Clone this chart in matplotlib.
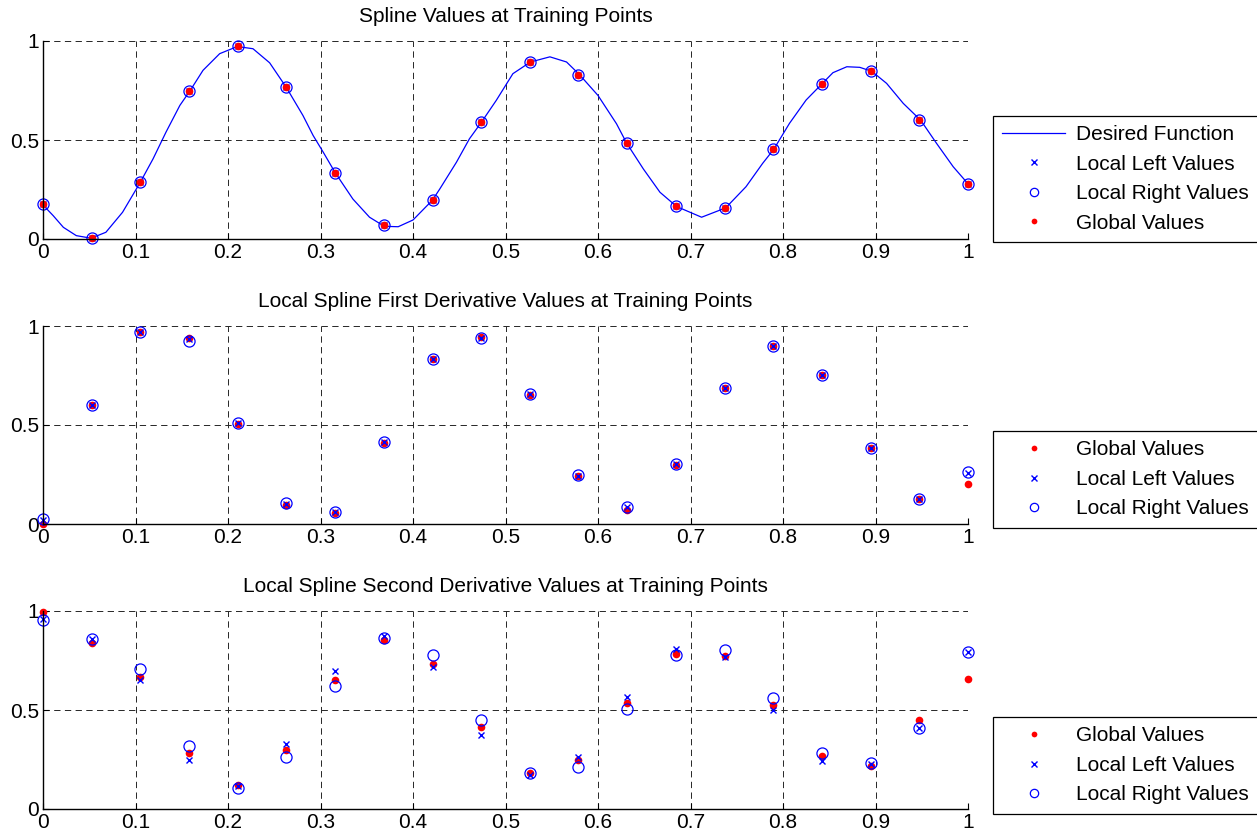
"""Local vs global spline values and derivatives at the training points."""

import matplotlib

matplotlib.use("Agg")
import matplotlib.pyplot as plt

plt.rcParams.update(
    {
        "font.family": ["Liberation Sans", "DejaVu Sans"],
        "font.size": 15,
        "axes.unicode_minus": False,
    }
)

# training points (20 evenly spaced knots on [0, 1])
train_x = [0.0000, 0.0526, 0.1053, 0.1579, 0.2105, 0.2632, 0.3158, 0.3684, 0.4211, 0.4737,
           0.5263, 0.5789, 0.6316, 0.6842, 0.7368, 0.7895, 0.8421, 0.8947, 0.9474, 1.0000]

# desired function
curve_x = [0.000, 0.011, 0.022, 0.036, 0.052, 0.068, 0.086, 0.105, 0.119, 0.133, 0.148,
           0.159, 0.173, 0.191, 0.210, 0.227, 0.245, 0.263, 0.281, 0.292, 0.303, 0.316,
           0.335, 0.353, 0.369, 0.384, 0.400, 0.421, 0.429, 0.447, 0.461, 0.474, 0.490,
           0.508, 0.527, 0.548, 0.566, 0.580, 0.600, 0.620, 0.631, 0.649, 0.667, 0.685,
           0.712, 0.738, 0.760, 0.778, 0.790, 0.807, 0.825, 0.842, 0.854, 0.869, 0.883,
           0.896, 0.912, 0.930, 0.949, 0.966, 0.984, 1.000]
curve_y = [0.172, 0.118, 0.059, 0.017, 0.004, 0.034, 0.135, 0.285, 0.405, 0.540, 0.675,
           0.749, 0.852, 0.936, 0.972, 0.961, 0.890, 0.766, 0.624, 0.523, 0.438, 0.334,
           0.202, 0.110, 0.064, 0.062, 0.096, 0.196, 0.253, 0.388, 0.506, 0.590, 0.700,
           0.835, 0.894, 0.920, 0.894, 0.830, 0.725, 0.582, 0.484, 0.354, 0.236, 0.164,
           0.110, 0.157, 0.264, 0.382, 0.453, 0.584, 0.702, 0.783, 0.840, 0.870, 0.867,
           0.847, 0.786, 0.685, 0.599, 0.483, 0.365, 0.279]

# spline values (left, right and global coincide)
val_global = [0.175, 0.007, 0.286, 0.749, 0.975, 0.766, 0.333, 0.069, 0.199, 0.589,
              0.896, 0.830, 0.487, 0.165, 0.158, 0.453, 0.783, 0.847, 0.599, 0.279]
val_left = list(val_global)
val_right = list(val_global)

# first derivative (normalised)
d1_global = [0.000, 0.601, 0.970, 0.938, 0.507, 0.096, 0.054, 0.411, 0.833, 0.946,
             0.652, 0.241, 0.069, 0.296, 0.689, 0.897, 0.751, 0.382, 0.128, 0.202]
d1_left = [0.019, 0.601, 0.970, 0.934, 0.510, 0.101, 0.059, 0.413, 0.833, 0.940,
           0.655, 0.244, 0.086, 0.301, 0.689, 0.897, 0.751, 0.382, 0.128, 0.258]
d1_right = [0.024, 0.601, 0.970, 0.926, 0.512, 0.104, 0.062, 0.414, 0.833, 0.938,
            0.655, 0.246, 0.088, 0.303, 0.689, 0.897, 0.751, 0.382, 0.128, 0.263]

# second derivative (normalised)
d2_global = [0.997, 0.836, 0.668, 0.283, 0.121, 0.298, 0.651, 0.852, 0.732, 0.413,
             0.182, 0.245, 0.533, 0.781, 0.772, 0.524, 0.270, 0.219, 0.447, 0.659]
d2_left = [0.958, 0.857, 0.654, 0.245, 0.115, 0.329, 0.696, 0.874, 0.718, 0.374,
           0.174, 0.263, 0.565, 0.806, 0.767, 0.501, 0.241, 0.229, 0.408, 0.793]
d2_right = [0.954, 0.857, 0.707, 0.320, 0.108, 0.261, 0.622, 0.865, 0.777, 0.450,
            0.182, 0.214, 0.503, 0.776, 0.803, 0.562, 0.283, 0.233, 0.408, 0.793]

x_ticks = [0, 0.1, 0.2, 0.3, 0.4, 0.5, 0.6, 0.7, 0.8, 0.9, 1]
x_labels = ["0", "0.1", "0.2", "0.3", "0.4", "0.5", "0.6", "0.7", "0.8", "0.9", "1"]
y_ticks = [0, 0.5, 1]
y_labels = ["0", "0.5", "1"]

W, H = 1257, 834
BLUE = "#0000ff"
RED = "#ff0000"


def px_axes(fig, top, bottom, left=43, right=968):
    return fig.add_axes([left / W, 1 - bottom / H, (right - left) / W, (bottom - top) / H])


def style(ax, title):
    ax.set_xlim(0, 1)
    ax.set_ylim(0, 1)
    ax.set_xticks(x_ticks, x_labels)
    ax.set_yticks(y_ticks, y_labels)
    ax.tick_params(direction="in", length=4, width=0.8, pad=3, labelsize=15)
    ax.spines["top"].set_visible(False)
    ax.spines["right"].set_visible(False)
    ax.spines["left"].set_linewidth(1.0)
    ax.spines["bottom"].set_linewidth(1.0)
    ax.grid(True, color="0.15", lw=0.7, linestyle=(0, (6.5, 4.5)))
    ax.set_axisbelow(True)
    ax.set_title(title, fontsize=15, pad=14)


def pt_left(ax, y):
    return ax.plot(train_x, y, "x", color=BLUE, ms=5, mew=1.0, clip_on=False,
                   label="Local Left Values")[0]


def pt_right(ax, y):
    return ax.plot(train_x, y, "o", mfc="none", mec=BLUE, ms=8, mew=0.9, clip_on=False,
                   label="Local Right Values")[0]


def pt_global(ax, y):
    return ax.plot(train_x, y, "o", color=RED, ms=5.5, mew=0, clip_on=False,
                   label="Global Values")[0]


def legend(ax, handles, top):
    ax.legend(
        handles=handles,
        loc="upper left",
        bbox_to_anchor=(993 / W, 1 - top / H),
        bbox_transform=ax.figure.transFigure,
        borderaxespad=0,
        borderpad=0.45,
        handlelength=3.0,
        handletextpad=0.55,
        labelspacing=0.5,
        numpoints=1,
        markerscale=0.75,
        fancybox=False,
        framealpha=1,
        edgecolor="k",
        fontsize=15,
    )
    ax.get_legend().get_frame().set_linewidth(0.9)


fig = plt.figure(figsize=(W / 100, H / 100), dpi=100)

# panel 1: spline values
ax1 = px_axes(fig, 41, 239)
style(ax1, "Spline Values at Training Points")
h_line = ax1.plot(curve_x, curve_y, "-", color=BLUE, lw=0.9, label="Desired Function")[0]
h_l = pt_left(ax1, val_left)
h_r = pt_right(ax1, val_right)
h_g = pt_global(ax1, val_global)
legend(ax1, [h_line, h_l, h_r, h_g], 116)

# panel 2: first derivative
ax2 = px_axes(fig, 326, 524)
style(ax2, "Local Spline First Derivative Values at Training Points")
h_g = pt_global(ax2, d1_global)
h_l = pt_left(ax2, d1_left)
h_r = pt_right(ax2, d1_right)
legend(ax2, [h_g, h_l, h_r], 431)

# panel 3: second derivative
ax3 = px_axes(fig, 611, 809)
style(ax3, "Local Spline Second Derivative Values at Training Points")
h_g = pt_global(ax3, d2_global)
h_l = pt_left(ax3, d2_left)
h_r = pt_right(ax3, d2_right)
legend(ax3, [h_g, h_l, h_r], 717)

fig.savefig("out.png", dpi=100)
